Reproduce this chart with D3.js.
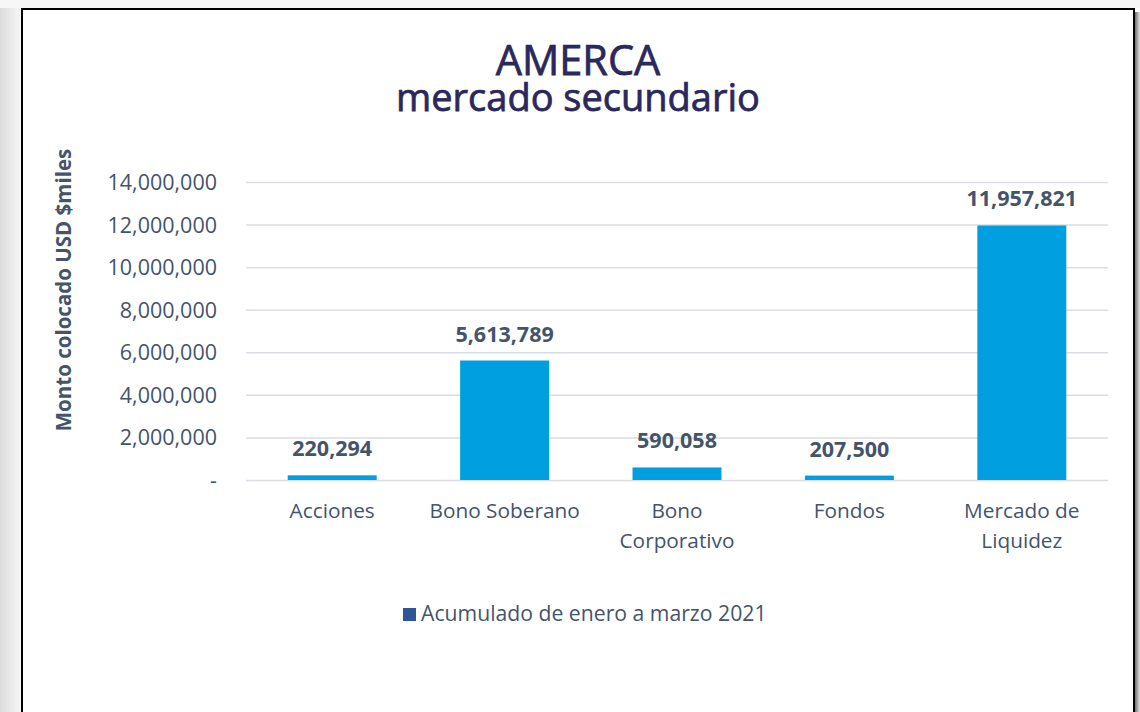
<!DOCTYPE html>
<html>
<head>
<meta charset="utf-8">
<script src="https://cdn.jsdelivr.net/npm/d3@7"></script>
<style>
  body { margin: 0; background: #fff; }
  svg { display: block; font-family: "Open Sans", sans-serif; }
</style>
</head>
<body>
<svg width="1140" height="712"></svg>
<script>
// datos del grafico
let categorias = [['Acciones'], ['Bono Soberano'], ['Bono', 'Corporativo'], ['Fondos'], ['Mercado de', 'Liquidez']]
let valores = [220294, 5613789, 590058, 207500, 11957821]
let ticks = [0, 2000000, 4000000, 6000000, 8000000, 10000000, 12000000, 14000000]
let serie = 'Acumulado de enero a marzo 2021'

let gris = '#44546a'
let azul = '#009fdf'
let marino = '#2a285c'

let svg = d3.select('svg')

/* marco y sombras */
let defs = svg.append('defs')
let gIzq = defs.append('linearGradient').attr('id', 'sombraIzq')
gIzq.append('stop').attr('offset', '0%').attr('stop-color', '#dcdcdc')
gIzq.append('stop').attr('offset', '100%').attr('stop-color', '#f6f6f6')
let gDer = defs.append('linearGradient').attr('id', 'sombraDer')
gDer.append('stop').attr('offset', '0%').attr('stop-color', '#6e6e6e')
gDer.append('stop').attr('offset', '100%').attr('stop-color', '#e4e4e4')

svg.append('rect').attr('x', 0).attr('y', 0).attr('width', 21).attr('height', 712).attr('fill', 'url(#sombraIzq)')
svg.append('rect').attr('x', 0).attr('y', 0).attr('width', 1140).attr('height', 8).attr('fill', '#f7f7f7')
svg.append('rect').attr('x', 1135).attr('y', 12).attr('width', 5).attr('height', 700).attr('fill', 'url(#sombraDer)')
svg.append('rect')
  .attr('x', 22).attr('y', 9).attr('width', 1112).attr('height', 720)
  .attr('fill', '#fff').attr('stroke', '#000').attr('stroke-width', 2)

/* titulo en dos lineas (semi negrita con un trazo fino) */
let titulo = svg.append('text')
  .attr('text-anchor', 'middle')
  .attr('fill', marino).attr('stroke', marino).attr('stroke-width', 0.75)
titulo.append('tspan').text('AMERCA')
  .attr('x', 578).attr('y', 75).attr('font-size', 41.5)
titulo.append('tspan').text('mercado secundario')
  .attr('x', 578).attr('y', 111).attr('font-size', 38)

/* escalas */
let x = d3.scaleBand()
  .domain(categorias.map(d => d.join(' ')))
  .range([246, 1108])
  .paddingInner(0.484).paddingOuter(0.242)

let y = d3.scaleLinear().domain([0, 14000000]).range([480, 182])

/* grilla y eje y */
let ejeY = svg.append('g')
  .attr('transform', 'translate(246,0)')
  .call(d3.axisLeft(y).tickValues(ticks)
    .tickFormat(d => d === 0 ? '-' : d3.format(',')(d))
    .tickSize(-862).tickPadding(29))
ejeY.select('.domain').remove()
ejeY.selectAll('line').attr('stroke', '#dadde4').attr('stroke-width', 1.5)
ejeY.selectAll('text').attr('fill', gris).attr('font-size', 21.5)
  .attr('font-family', '"Open Sans", sans-serif').attr('dy', '0.35em')

svg.append('text').text('Monto colocado USD $miles')
  .attr('transform', 'translate(71,290) rotate(-90)')
  .attr('text-anchor', 'middle')
  .attr('font-size', 20.5).attr('font-weight', 'bold').attr('fill', gris)

/* barras */
let barras = svg.append('g').selectAll('g.barra')
  .data(valores)
  .enter().append('g')
  .attr('class', 'barra')

barras.append('rect')
  .attr('x', (d, i) => x(categorias[i].join(' ')))
  .attr('width', x.bandwidth())
  .attr('y', d => y(d))
  .attr('height', d => y(0) - y(d))
  .attr('fill', azul)

barras.append('text')
  .text(d => d3.format(',')(d))
  .attr('x', (d, i) => x(categorias[i].join(' ')) + x.bandwidth() / 2)
  .attr('y', d => y(d) - 19)
  .attr('text-anchor', 'middle')
  .attr('font-size', 21.5).attr('font-weight', 'bold').attr('fill', gris)

/* etiquetas de categorias */
let etiquetas = svg.append('g').selectAll('text')
  .data(categorias)
  .enter().append('text')
  .attr('text-anchor', 'middle')
  .attr('font-size', 20.8).attr('fill', gris)
  .attr('transform', d => `translate(${x(d.join(' ')) + x.bandwidth() / 2},518)`)

etiquetas.selectAll('tspan')
  .data(d => d)
  .enter().append('tspan')
  .attr('x', 0)
  .attr('y', (d, i) => i * 30)
  .text(d => d)

/* leyenda */
svg.append('rect').attr('x', 403).attr('y', 608).attr('width', 13).attr('height', 13).attr('fill', '#2f5597')
svg.append('text').text(serie)
  .attr('x', 421).attr('y', 621)
  .attr('font-size', 21.2).attr('fill', gris)
</script>
</body>
</html>
